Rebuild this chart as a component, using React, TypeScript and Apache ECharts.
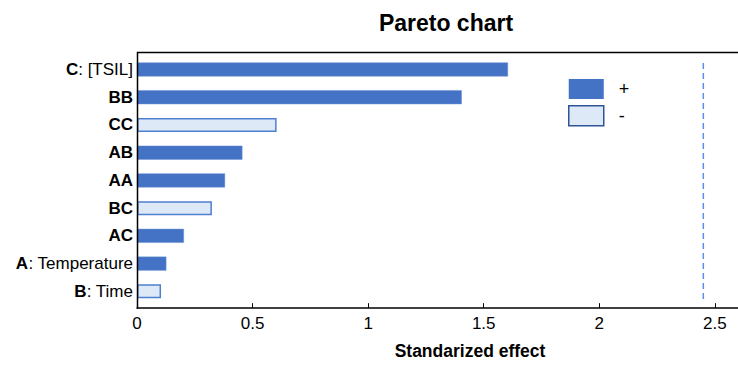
import React, { useEffect, useRef } from "react";
import * as echarts from "echarts";

const categories = ["C: [TSIL]", "BB", "CC", "AB", "AA", "BC", "AC", "A: Temperature", "B: Time"];
const boldPart = ["C", "BB", "CC", "AB", "AA", "BC", "AC", "A", "B"];
const restPart = [": [TSIL]", "", "", "", "", "", "", ": Temperature", ": Time"];
const positiveEffects: (number | null)[] = [1.605, 1.405, null, 0.456, 0.381, null, 0.203, 0.127, null];
const negativeEffects: (number | null)[] = [null, null, 0.604, null, null, 0.324, null, null, 0.104];
const criticalValue = 2.45;
const xTicks = [0, 0.5, 1, 1.5, 2, 2.5];

export default function App() {
  const ref = useRef<HTMLDivElement>(null);
  useEffect(() => {
    if (!ref.current) return;
    const chart = echarts.init(ref.current, undefined, { renderer: "svg" });
    const font = "Liberation Sans, Arial, sans-serif";
    chart.setOption({
      animation: false,
      textStyle: { fontFamily: font },
      title: {
        text: "Pareto chart",
        left: 441,
        textAlign: "center",
        top: 6,
        textStyle: { fontFamily: font, fontSize: 23, fontWeight: "bold", color: "#000" },
      },
      legend: {
        orient: "vertical",
        left: 568,
        top: 79,
        padding: 0,
        itemWidth: 35,
        itemHeight: 20,
        itemGap: 6,
        textStyle: { fontFamily: font, fontSize: 18, color: "#000", padding: [0, 0, 0, 10] },
        data: [
          { name: "+", icon: "rect", itemStyle: { color: "#4472C4", borderColor: "#4472C4", borderWidth: 0 } },
          { name: "-", icon: "rect", itemStyle: { color: "#DDE9F6", borderColor: "#2F5597", borderWidth: 1.5 } },
        ],
      },
      grid: { left: 137, right: 0, top: 55.6, bottom: 62.8, containLabel: false },
      xAxis: {
        type: "value",
        min: 0,
        max: 2.6,
        interval: 0.5,
        offset: 3,
        axisLine: { show: true, lineStyle: { color: "#000", width: 1.5 } },
        axisTick: { show: true, inside: true, length: 5, lineStyle: { color: "#000", width: 1 } },
        splitLine: { show: false },
        axisLabel: {
          fontFamily: font,
          fontSize: 17,
          color: "#000",
          margin: 7,
          showMaxLabel: false,
          formatter: (v: number) => (xTicks.includes(v) ? String(v) : ""),
        },
      },
      yAxis: {
        type: "category",
        inverse: true,
        data: categories,
        axisLine: { show: false },
        axisTick: { show: false },
        axisLabel: {
          margin: 4,
          fontFamily: font,
          fontSize: 17,
          color: "#000",
          formatter: (_v: string, i: number) =>
            "{b|" + boldPart[i] + "}" + (restPart[i] ? "{n|" + restPart[i] + "}" : ""),
          rich: {
            b: { fontFamily: font, fontSize: 17, fontWeight: "bold", color: "#000" },
            n: { fontFamily: font, fontSize: 17, color: "#000" },
          },
        },
      },
      series: [
        {
          name: "+",
          type: "bar",
          stack: "eff",
          barWidth: 14,
          data: positiveEffects,
          itemStyle: { color: "#4472C4", borderColor: "#6A90D4", borderWidth: 0.5 },
        },
        {
          name: "-",
          type: "bar",
          stack: "eff",
          barWidth: 14,
          data: negativeEffects,
          itemStyle: { color: "#DDE9F6", borderColor: "#4F7FD0", borderWidth: 1.5 },
        },
      ],
      graphic: [
        {
          type: "polyline",
          silent: true,
          shape: { points: [[745, 52.5], [137.5, 52.5], [137.5, 308.5]] },
          style: { stroke: "#000", lineWidth: 1.5, fill: "none" },
          z: 10,
        },
        {
          type: "text",
          x: 470,
          y: 342,
          style: {
            text: "Standarized effect",
            fontFamily: font,
            fontSize: 17.5,
            fontWeight: "bold",
            fill: "#000",
            align: "center",
          },
        },
      ],
    });
    const critX = chart.convertToPixel({ xAxisIndex: 0 }, criticalValue) as number;
    chart.setOption({
      graphic: [
        {},
        {},
        {
          type: "line",
          silent: true,
          shape: { x1: critX, y1: 63, x2: critX, y2: 303 },
          style: { stroke: "#5B8EEE", lineWidth: 1.5, lineDash: [6, 4] },
        },
      ],
    });
    return () => chart.dispose();
  }, []);
  return <div ref={ref} style={{ width: 738, height: 368, position: "absolute", left: 0, top: 0 }} />;
}
